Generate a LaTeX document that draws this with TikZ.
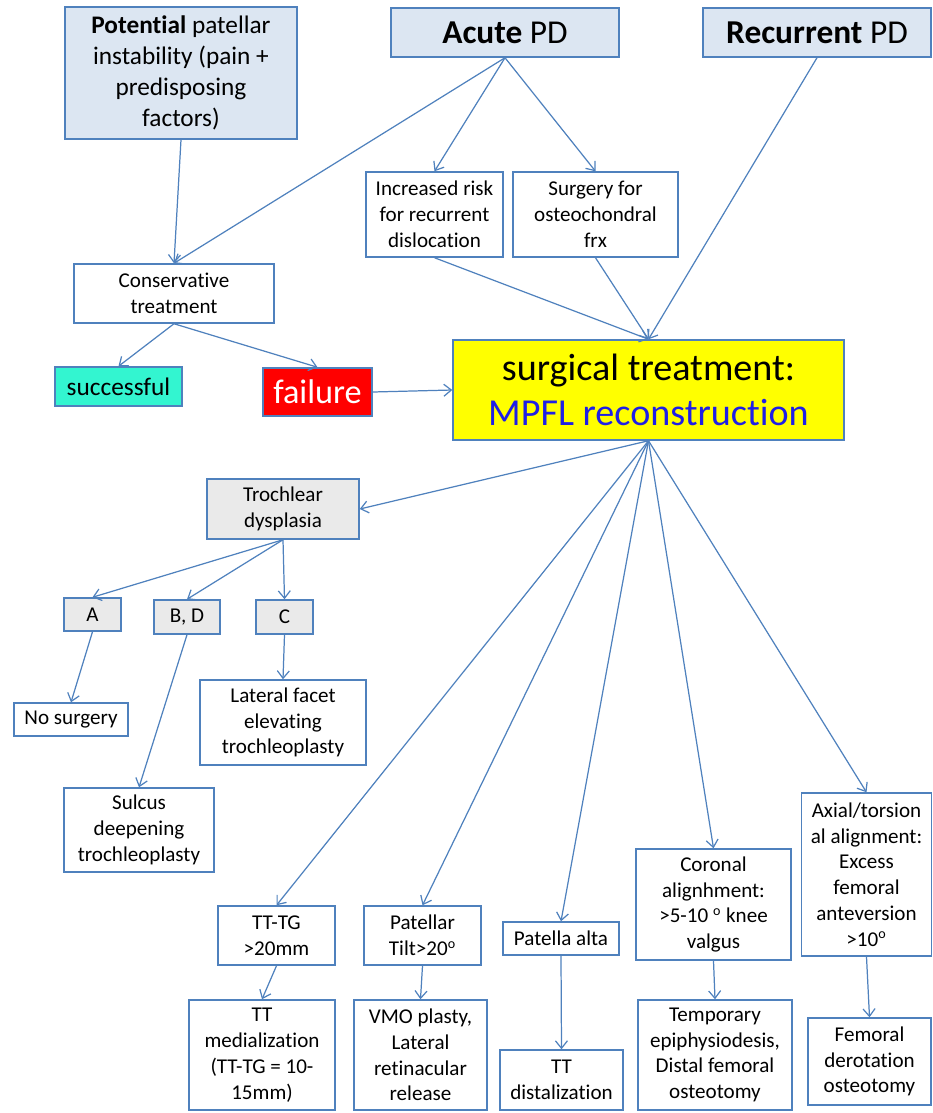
\documentclass[tikz,border=0pt]{standalone}
\usepackage{fontspec}
\setmainfont[Ligatures=NoCommon]{Carlito}
\usepackage{tikz}
\usetikzlibrary{arrows.meta}
\definecolor{edgeblue}{HTML}{4F81BD}
\definecolor{paleblue}{HTML}{DCE6F2}
\definecolor{palegray}{HTML}{EAEAEA}
\definecolor{aqua}{HTML}{33F5D0}
\definecolor{alarm}{HTML}{FF0000}
\definecolor{mark}{HTML}{FFFF00}
\definecolor{mpflblue}{HTML}{1F1FE6}

\begin{document}
\begin{tikzpicture}[
  x=0.02cm, y=-0.02cm,
  box/.style={
    draw=edgeblue, fill=white, line width=0.85pt, align=center, inner sep=2pt,
    font=\fontsize{12}{14.7}\selectfont
  },
  entry/.style={box, fill=paleblue},
  grade/.style={box, fill=palegray},
  arrow/.style={-{Straight Barb[length=1.5mm,width=2.4mm]}, line width=0.7pt, color=edgeblue}
]
  \useasboundingbox (0,0) rectangle (933,1113);
  % entry points
  \node[entry, minimum width=4.64cm, minimum height=2.64cm, font=\fontsize{14.4}{17.6}\selectfont] (pot) at (181,73)
    {\textbf{Potential} patellar\\instability (pain +\\predisposing\\factors)};
  \node[entry, minimum width=4.56cm, minimum height=0.98cm, font=\fontsize{19}{21}\selectfont] (acute) at (505,32.5)
    {\textbf{Acute} PD};
  \node[entry, minimum width=4.56cm, minimum height=0.98cm, font=\fontsize{19}{21}\selectfont] (recur) at (817,32.5)
    {\textbf{Recurrent} PD};
  \node[box, minimum width=2.74cm, minimum height=1.70cm] (incr) at (434.5,214.5)
    {Increased risk\\for recurrent\\dislocation};
  \node[box, minimum width=3.30cm, minimum height=1.70cm] (osteo) at (595.5,214.5)
    {Surgery for\\osteochondral\\frx};
  \node[box, minimum width=4.00cm, minimum height=1.18cm] (cons) at (174,293.5)
    {Conservative\\treatment};
  \node[box, fill=aqua, minimum width=2.54cm, minimum height=0.78cm, font=\fontsize{14.4}{16}\selectfont] (succ) at (118.5,386.5)
    {successful};
  \node[box, fill=alarm, text=white, minimum width=2.18cm, minimum height=0.96cm, font=\fontsize{19.5}{22}\selectfont] (fail) at (317.5,392)
    {failure};
  \node[box, fill=mark, minimum width=7.82cm, minimum height=2.00cm, font=\fontsize{21.7}{26}\selectfont] (mpfl) at (648.5,390)
    {surgical treatment:\\\textcolor{mpflblue}{MPFL reconstruction}};
  % trochlear branch
  \node[grade, minimum width=3.04cm, minimum height=1.20cm] (troch) at (283,509)
    {Trochlear\\dysplasia};
  \node[grade, minimum width=1.14cm, minimum height=0.66cm] (typea) at (92.5,614.5) {A};
  \node[grade, minimum width=1.32cm, minimum height=0.68cm] (typebd) at (187,617) {B, D};
  \node[grade, minimum width=1.14cm, minimum height=0.68cm] (typec) at (284.5,617) {C};
  \node[box, minimum width=2.28cm, minimum height=0.66cm] (nosurg) at (71,719.5) {No surgery};
  \node[box, minimum width=3.32cm, minimum height=1.70cm] (facet) at (283,722.5)
    {Lateral facet\\elevating\\trochleoplasty};
  \node[box, minimum width=3.00cm, minimum height=1.68cm] (sulcus) at (139,830)
    {Sulcus\\deepening\\trochleoplasty};
  % other factors
  \node[box, minimum width=2.34cm, minimum height=1.18cm] (tttg) at (276.5,935.5) {TT-TG\\>20mm};
  \node[box, minimum width=2.34cm, minimum height=1.18cm] (tilt) at (422.5,935.5) {Patellar\\Tilt>20\textsuperscript{o}};
  \node[box, minimum width=2.32cm, minimum height=0.66cm] (alta) at (561,938.5) {Patella alta};
  \node[box, minimum width=3.10cm, minimum height=2.22cm] (coron) at (713.5,904.5)
    {Coronal\\alignhment:\\>5-10 \textsuperscript{o} knee\\valgus};
  \node[box, minimum width=2.60cm, minimum height=3.26cm] (axial) at (866.5,874.5)
    {Axial/torsion\\al alignment:\\Excess\\femoral\\anteversion\\>10\textsuperscript{o}};
  \node[box, minimum width=2.92cm, minimum height=2.20cm] (ttmed) at (262,1055)
    {TT\\medialization\\(TT-TG = 10-\\15mm)};
  \node[box, minimum width=2.66cm, minimum height=2.20cm] (vmo) at (420.5,1055)
    {VMO plasty,\\Lateral\\retinacular\\release};
  \node[box, minimum width=2.46cm, minimum height=1.20cm] (ttdist) at (561.5,1080)
    {TT\\distalization};
  \node[box, minimum width=3.08cm, minimum height=2.20cm] (epiph) at (715,1055)
    {Temporary\\epiphysiodesis,\\Distal femoral\\osteotomy};
  \node[box, minimum width=2.46cm, minimum height=1.74cm] (derot) at (869.5,1061.5)
    {Femoral\\derotation\\osteotomy};
  % connectors
  \draw[arrow] (pot.south) -- (cons.north);
  \draw[arrow] (acute.south) -- (cons.north);
  \draw[arrow] (acute.south) -- (incr.north);
  \draw[arrow] (acute.south) -- (osteo.north);
  \draw[arrow] (incr.south) -- (mpfl.north);
  \draw[arrow] (osteo.south) -- (mpfl.north);
  \draw[arrow] (recur.south) -- (mpfl.north);
  \draw[arrow] (cons.south) -- (succ.north);
  \draw[arrow] (cons.south) -- (fail.north);
  \draw[arrow] (fail.east) -- (mpfl.west);
  \draw[arrow] (mpfl.south) -- (troch.east);
  \foreach \dest in {tttg, tilt, alta, coron, axial}
    \draw[arrow] (mpfl.south) -- (\dest.north);
  \foreach \dest in {typea, typebd, typec}
    \draw[arrow] (troch.south) -- (\dest.north);
  \draw[arrow] (typea.south) -- (nosurg.north);
  \draw[arrow] (typebd.south) -- (sulcus.north);
  \draw[arrow] (typec.south) -- (facet.north);
  \draw[arrow] (tttg.south) -- (ttmed.north);
  \draw[arrow] (tilt.south) -- (vmo.north);
  \draw[arrow] (alta.south) -- (ttdist.north);
  \draw[arrow] (coron.south) -- (epiph.north);
  \draw[arrow] (axial.south) -- (derot.north);
\end{tikzpicture}
\end{document}
